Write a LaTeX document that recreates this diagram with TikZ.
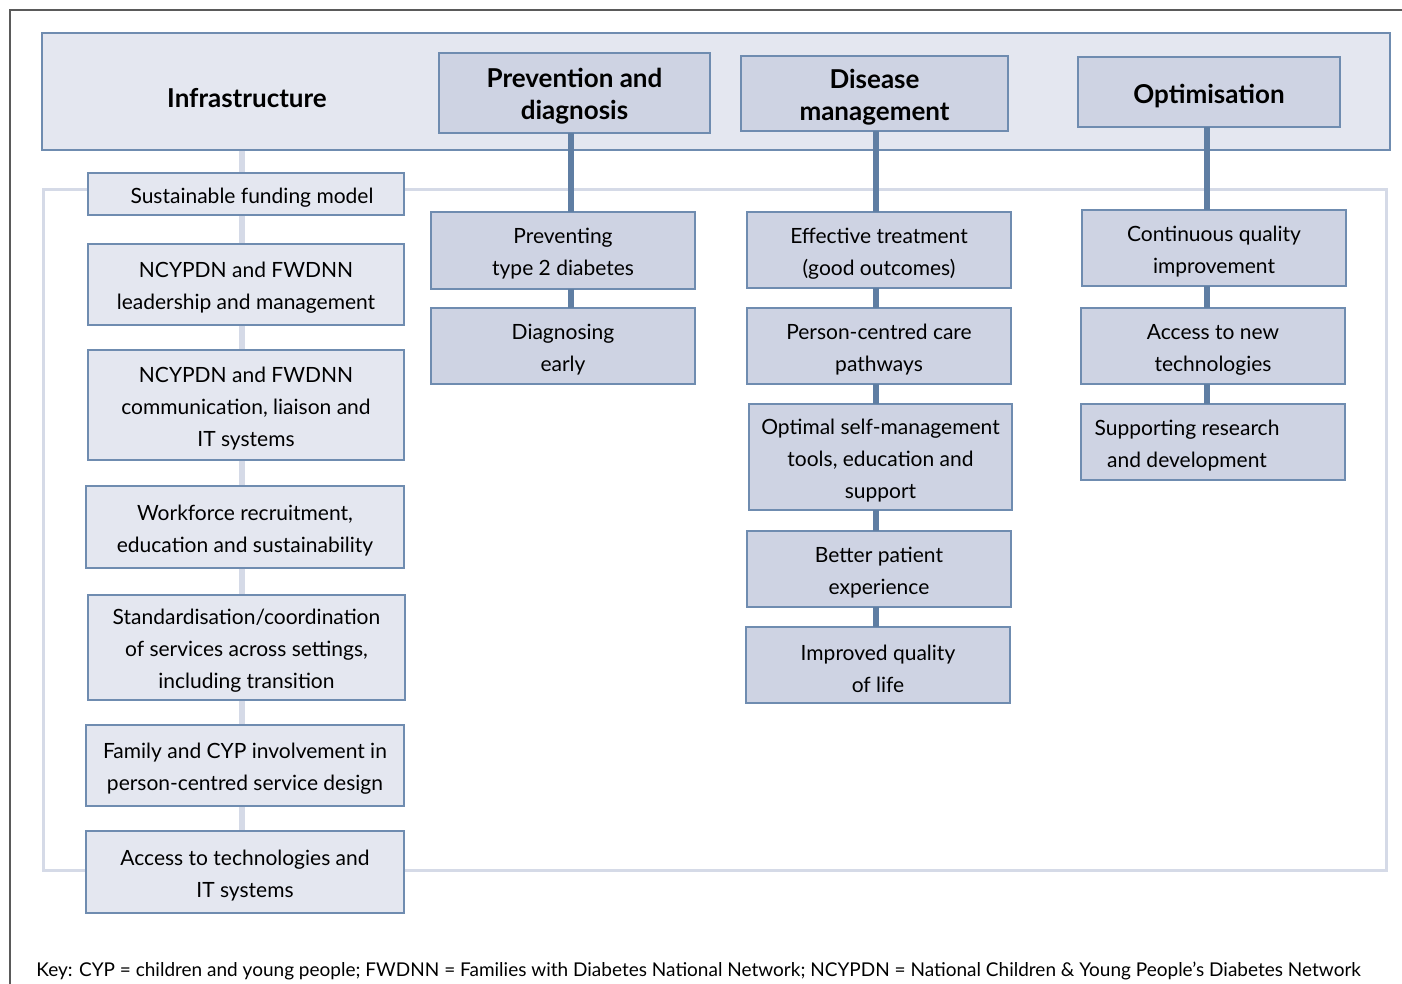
\documentclass[tikz,border=0pt]{standalone}
\usepackage{fontspec}
\setmainfont{Lato}
\usetikzlibrary{backgrounds}
\definecolor{bandfill}{HTML}{E4E7F0}
\definecolor{boxfill}{HTML}{CED3E3}
\definecolor{edgeblue}{HTML}{6F8CB0}
\definecolor{connblue}{HTML}{5F7EA3}
\definecolor{lightconn}{HTML}{D5DAE7}
\definecolor{framegray}{HTML}{5A5A5A}
% #1 text xshift (px), #2 style, #3 name, #4-#7 corners, #8 text
\newcommand\mybox[8][0]{%
  \node[#2, minimum width={(#6-#4)*0.5pt}, minimum height={(#7-#5)*0.5pt}] (#3) at ({(#4+#6)/2},{(#5+#7)/2}) {};
  \node[#2, draw=none, fill=none, xshift={#1*0.5pt}, yshift=-1.8pt] (#3t) at (#3.center) {#8};}
\tikzset{
  base/.style={draw=edgeblue, line width=0.6pt, inner sep=0pt, outer sep=0pt, align=center, text=black},
  lightbox/.style={base, fill=bandfill, font=\fontsize{10.5}{16}\selectfont},
  darkbox/.style={base, fill=boxfill, font=\fontsize{10.5}{16}\selectfont},
  headbox/.style={base, fill=boxfill, font=\fontsize{13}{16}\selectfont\bfseries},
  bandbox/.style={base, fill=bandfill},
  thickconn/.style={draw=connblue, line width=2.6pt},
  thinconn/.style={draw=lightconn, line width=2.6pt},
}
\begin{document}
\begin{tikzpicture}[x=0.5pt, y=-0.5pt]
\useasboundingbox (0,0) rectangle (1402,984);
% outer frame
\coordinate (fo) at (10,10);
\coordinate (fr) at (1402,10);
\coordinate (fb) at (10,984);
\draw[framegray, line width=1pt] (fb) -- (fo) -- (fr);
% band
\node[bandbox, minimum width={(1390-42)*0.5pt}, minimum height={(150-33)*0.5pt}] (band) at ({(42+1390)/2},{(33+150)/2}) {};
\node[font=\fontsize{13}{16}\selectfont\bfseries] (infra) at (247,98) {Infrastructure};
% headers
\mybox{headbox}{hp}{439}{53}{710}{133}{Prevention and\\diagnosis}
\mybox{headbox}{hd}{741}{56}{1008}{131}{Disease\\management}
\mybox{headbox}{ho}{1078}{57}{1340}{127}{Optimisation}
% left column
\mybox[6]{lightbox}{l1}{88}{173}{404}{215}{Sustainable funding model}
\mybox{lightbox}{l2}{88}{244}{404}{325}{NCYPDN and FWDNN\\leadership and management}
\mybox{lightbox}{l3}{88}{350}{404}{460}{NCYPDN and FWDNN\\communication, liaison and\\IT systems}
\mybox{lightbox}{l4}{86}{486}{404}{568}{Workforce recruitment,\\education and sustainability}
\mybox{lightbox}{l5}{88}{595}{405}{700}{Standardisation/coordination\\of services across settings,\\including transition}
\mybox{lightbox}{l6}{86}{725}{404}{806}{Family and CYP involvement in\\person-centred service design}
\mybox{lightbox}{l7}{86}{831}{404}{913}{Access to technologies and\\IT systems}
% prevention column
\mybox{darkbox}{p1}{431}{212}{695}{289}{Preventing\\type 2 diabetes}
\mybox{darkbox}{p2}{431}{308}{695}{384}{Diagnosing\\early}
% disease column
\mybox{darkbox}{d1}{747}{212}{1011}{288}{Effective treatment\\(good outcomes)}
\mybox{darkbox}{d2}{747}{308}{1011}{384}{Person-centred care\\pathways}
\mybox{darkbox}{d3}{749}{404}{1012}{510}{Optimal self-management\\tools, education and\\support}
\mybox{darkbox}{d4}{747}{531}{1011}{607}{Better patient\\experience}
\mybox{darkbox}{d5}{746}{627}{1010}{703}{Improved quality\\of life}
% optimisation column
\mybox{darkbox}{o1}{1082}{210}{1346}{286}{Continuous quality\\improvement}
\mybox{darkbox}{o2}{1081}{308}{1345}{384}{Access to new\\technologies}
\mybox[-26]{darkbox}{o3}{1081}{404}{1345}{480}{Supporting research\\and development}
% key
\node[anchor=base west, inner sep=0pt, font=\fontsize{9.5}{12}\selectfont] (key) at (36,976) {Key: CYP = children and young people; FWDNN = Families with Diabetes National Network; NCYPDN = National Children \& Young People’s Diabetes Network};
% connector x positions
\coordinate (cl) at (242,0);
\coordinate (cp) at (571,0);
\coordinate (cd) at (876,0);
\coordinate (co) at (1207,0);
\begin{scope}[on background layer]
  \draw[lightconn, line width=1.5pt] (43,190) rectangle (1386,870);
  \draw[thinconn] (band.south -| cl) -- (l7.north -| cl);
\end{scope}
\draw[thickconn] (hp.south -| cp) -- (p1.north -| cp);
\draw[thickconn] (p1.south -| cp) -- (p2.north -| cp);
\draw[thickconn] (hd.south -| cd) -- (d1.north -| cd);
\draw[thickconn] (d1.south -| cd) -- (d2.north -| cd);
\draw[thickconn] (d2.south -| cd) -- (d3.north -| cd);
\draw[thickconn] (d3.south -| cd) -- (d4.north -| cd);
\draw[thickconn] (d4.south -| cd) -- (d5.north -| cd);
\draw[thickconn] (ho.south -| co) -- (o1.north -| co);
\draw[thickconn] (o1.south -| co) -- (o2.north -| co);
\draw[thickconn] (o2.south -| co) -- (o3.north -| co);
\end{tikzpicture}
\end{document}
